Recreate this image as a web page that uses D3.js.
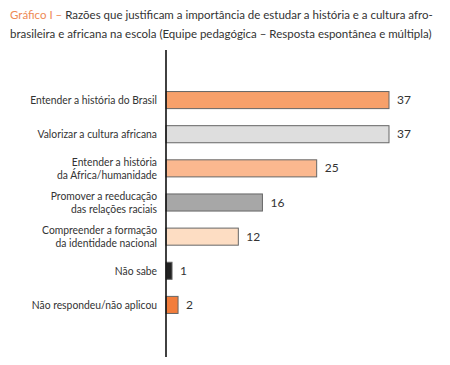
<!DOCTYPE html>
<html><head><meta charset="utf-8">
<script src="https://cdn.jsdelivr.net/npm/d3@7"></script>
<style>body{margin:0;background:#fff}svg{display:block}text{font-family:Lato,"Open Sans",sans-serif}</style>
</head><body><svg id="c" width="450" height="365"></svg>
<script>
const categories = [
  ["Entender a história do Brasil"],
  ["Valorizar a cultura africana"],
  ["Entender a história", "da África/humanidade"],
  ["Promover a reeducação", "das relações raciais"],
  ["Compreender a formação", "da identidade nacional"],
  ["Não sabe"],
  ["Não respondeu/não aplicou"]
];
const values = [37, 37, 25, 16, 12, 1, 2];
const colors = ["#F7A06A", "#DEDEDE", "#FBB88F", "#A7A7A7", "#FDDDC3", "#222222", "#F27D3C"];
const titleOrange = "Gráfico I – ";
const titleLine1 = "Razões que justificam a importância de estudar a história e a cultura afro-";
const titleLine2 = "brasileira e africana na escola (Equipe pedagógica – Resposta espontânea e múltipla)";

const svg = d3.select("#c");
const x0 = 166;
const x = d3.scaleLinear().domain([0, 37]).range([x0, 389]);
const idx = d3.range(categories.length);
const y = d3.scaleBand().domain(idx).range([83, 322]).paddingInner(0.5).paddingOuter(0.25);

function squeeze(sel, ratio) {
  sel.each(function () {
    const w = this.getComputedTextLength();
    d3.select(this).attr("textLength", w * ratio).attr("lengthAdjust", "spacingAndGlyphs");
  });
}

// title (fit to width by font size)
function fitTitle(sel, target) {
  let fs = 13.5;
  sel.attr("font-size", fs);
  let w = sel.node().getComputedTextLength();
  fs = fs * target / w;
  sel.attr("font-size", fs);
}
const t1 = svg.append("text").attr("x", 10).attr("y", 19).attr("fill", "#333");
t1.append("tspan").attr("fill", "#EE8A55").text(titleOrange);
t1.append("tspan").text(titleLine1);
const t2 = svg.append("text").attr("x", 10).attr("y", 38).attr("fill", "#333").text(titleLine2);
fitTitle(t2, 422);
t1.attr("font-size", t2.attr("font-size"));

// bars
svg.selectAll("rect.bar").data(idx).join("rect")
  .attr("x", x0).attr("y", i => y(i))
  .attr("width", i => x(values[i]) - x0).attr("height", y.bandwidth())
  .attr("fill", i => colors[i]).attr("stroke", "#666").attr("stroke-width", 1);

// values
svg.selectAll("text.val").data(idx).join("text")
  .attr("x", i => x(values[i]) + 8).attr("y", i => y(i) + y.bandwidth() / 2 + 4)
  .attr("font-size", 12).attr("fill", "#333").text(i => values[i]);

// category labels
idx.forEach(i => {
  const lines = categories[i];
  const cy = y(i) + y.bandwidth() / 2;
  const lh = 13.5;
  lines.forEach((ln, k) => {
    svg.append("text").attr("x", 157).attr("text-anchor", "end")
      .attr("y", cy + 4 + (k - (lines.length - 1) / 2) * lh)
      .attr("font-size", 12).attr("fill", "#333").text(ln)
      .call(squeeze, 0.86);
  });
});

// axis line
svg.append("line").attr("x1", x0).attr("x2", x0).attr("y1", 50).attr("y2", 357)
  .attr("stroke", "#111").attr("stroke-width", 1.6);
</script></body></html>
